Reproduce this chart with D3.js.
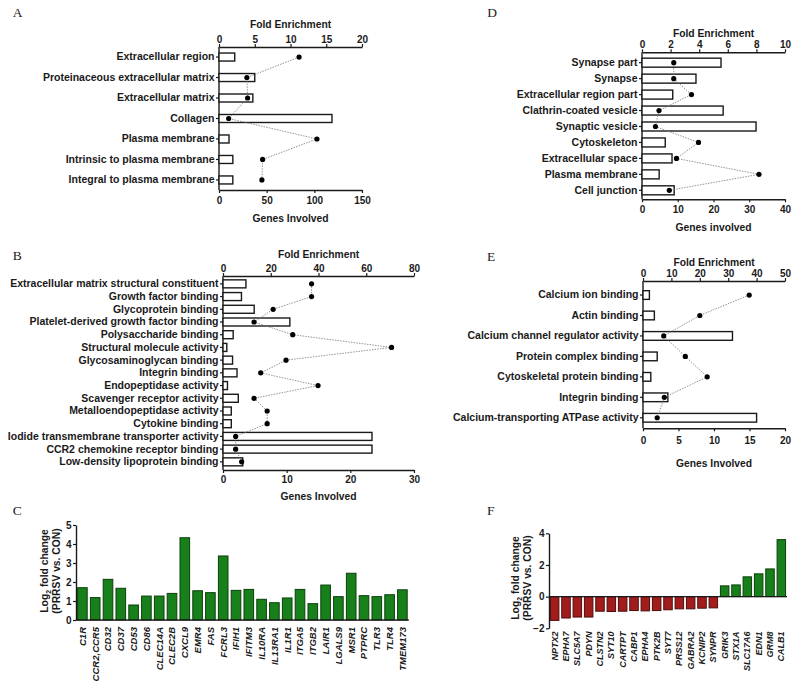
<!DOCTYPE html>
<html>
<head>
<meta charset="utf-8">
<title>GO enrichment and fold change</title>
<script src="https://d3js.org/d3.v7.min.js"></script>
<style>
  body { margin: 0; background: #fff; }
  svg text { font-family: 'Liberation Sans', Arial, sans-serif; font-weight: bold; fill: #1a1a1a; }
  svg .letter { font-family: 'Liberation Serif', 'Times New Roman', serif; font-weight: normal; font-size: 13.5px; }
</style>
</head>
<body>
<svg id="fig" width="800" height="694"></svg>
<script>
// ---- data ----
// A: cellular component (upregulated)
const aTerms = ['Extracellular region', 'Proteinaceous extracellular matrix', 'Extracellular matrix',
                'Collagen', 'Plasma membrane', 'Intrinsic to plasma membrane', 'Integral to plasma membrane'];
const aGenes = [16.5, 37.5, 35.5, 118.5, 10.5, 14.5, 14.5];
const aFold = [11.2, 3.9, 4.0, 1.35, 13.7, 6.1, 6.0];
const aFoldTicks = [0, 5, 10, 15, 20];
const aGeneTicks = [0, 50, 100, 150];

// B: molecular function (upregulated)
const bTerms = ['Extracellular matrix structural constituent', 'Growth factor binding', 'Glycoprotein binding',
                'Platelet-derived growth factor binding', 'Polysaccharide binding', 'Structural molecule activity',
                'Glycosaminoglycan binding', 'Integrin binding', 'Endopeptidase activity',
                'Scavenger receptor activity', 'Metalloendopeptidase activity', 'Cytokine binding',
                'Iodide transmembrane transporter activity', 'CCR2 chemokine receptor binding',
                'Low-density lipoprotein binding'];
const bGenes = [3.6, 2.9, 4.9, 10.5, 1.6, 0.6, 1.5, 2.2, 0.7, 2.4, 1.3, 1.3, 23.4, 23.4, 3.1];
const bFold = [37.1, 37.1, 21.0, 13.0, 29.2, 70.6, 26.4, 15.8, 39.8, 13.0, 18.5, 18.5, 5.3, 5.3, 7.8];
const bFoldTicks = [0, 20, 40, 60, 80];
const bGeneTicks = [0, 10, 20, 30];

// C: upregulated genes
const cGenes = ['C1R', 'CCR2,CCR5', 'CD32', 'CD37', 'CD53', 'CD86', 'CLEC14A', 'CLEC2B', 'CXCL9', 'EMR4',
                'FAS', 'FCRL3', 'IFIH1', 'IFITM3', 'IL10RA', 'IL13RA1', 'IL1R1', 'ITGA5', 'ITGB2', 'LAIR1',
                'LGALS9', 'MSR1', 'PTPRC', 'TLR3', 'TLR4', 'TMEM173'];
const cLfc = [1.70, 1.18, 2.14, 1.67, 0.79, 1.26, 1.26, 1.40, 4.33, 1.54, 1.44, 3.37, 1.56, 1.61, 1.09,
              0.91, 1.16, 1.61, 0.86, 1.84, 1.23, 2.46, 1.28, 1.23, 1.33, 1.59];
const cTicks = [0, 1, 2, 3, 4, 5];

// D: cellular component (neural)
const dTerms = ['Synapse part', 'Synapse', 'Extracellular region part', 'Clathrin-coated vesicle',
                'Synaptic vesicle', 'Cytoskeleton', 'Extracellular space', 'Plasma membrane', 'Cell junction'];
const dGenes = [22.1, 15.1, 8.6, 22.7, 31.9, 6.5, 8.4, 4.8, 9.0];
const dFold = [2.22, 2.22, 3.46, 1.19, 0.94, 3.95, 2.41, 8.18, 1.91];
const dFoldTicks = [0, 2, 4, 6, 8, 10];
const dGeneTicks = [0, 10, 20, 30, 40];

// E: molecular function (neural)
const eTerms = ['Calcium ion binding', 'Actin binding', 'Calcium channel regulator activity',
                'Protein complex binding', 'Cytoskeletal protein binding', 'Integrin binding',
                'Calcium-transporting ATPase activity'];
const eGenes = [0.9, 1.6, 12.6, 2.0, 1.1, 3.5, 16.0];
const eFold = [37.4, 20.0, 7.3, 14.9, 22.6, 7.5, 5.0];
const eFoldTicks = [0, 10, 20, 30, 40, 50];
const eGeneTicks = [0, 5, 10, 15, 20];

// F: neural genes
const fGenes = ['NPTX2', 'EPHA7', 'SLC5A7', 'PDYN', 'CLSTN2', 'SYT10', 'CARTPT', 'CABP1', 'EPHA4', 'PTK2B',
                'SYT7', 'PRSS12', 'GABRA2', 'KCNIP2', 'SYNPR', 'GRIK3', 'STX1A', 'SLC17A6', 'EDN1', 'GRM8', 'CALB1'];
const fLfc = [-1.50, -1.35, -1.29, -1.29, -0.92, -0.94, -0.92, -0.88, -0.90, -0.88, -0.83, -0.77, -0.77,
              -0.73, -0.71, 0.68, 0.74, 1.25, 1.44, 1.75, 3.60];
const fTicks = [-2, 0, 2, 4];

const svg = d3.select('#fig');
const intFmt = d3.format('d');

function styleAxis(g, fontSize) {
    g.attr('font-family', null).attr('font-size', null);
    g.selectAll('.domain').attr('stroke', '#1a1a1a').attr('stroke-width', 1.4);
    g.selectAll('.tick line').attr('stroke', '#1a1a1a').attr('stroke-width', 1.2);
    g.selectAll('.tick text').attr('font-size', fontSize).attr('fill', '#1a1a1a')
     .attr('font-weight', 'bold');
}

// Enrichment panel: white bars = genes involved (bottom axis), dots = fold enrichment (top axis)
function enrichPanel(c) {
    const g = svg.append('g');
    const foldX = d3.scaleLinear().domain([0, c.foldTicks[c.foldTicks.length - 1]]).range([c.x0, c.x1]);
    const geneX = d3.scaleLinear().domain([0, c.geneTicks[c.geneTicks.length - 1]]).range([c.x0, c.x1]);
    const y = d3.scaleBand().domain(c.terms).range([c.bandTop, c.bandBot]);
    const yc = (d) => y(d) + y.bandwidth() / 2;

    // Top axis
    const top = g.append('g').attr('transform', `translate(0,${c.yTop})`)
                 .call(d3.axisTop(foldX).tickValues(c.foldTicks).tickFormat(intFmt)
                         .tickSize(3).tickSizeOuter(0).tickPadding(1));
    styleAxis(top, 10);
    g.append('text').attr('x', (c.x0 + c.x1) / 2).attr('y', c.yTop - c.topTitle)
     .attr('text-anchor', 'middle').attr('font-size', 10.3).text('Fold Enrichment');

    // Bottom axis
    const bot = g.append('g').attr('transform', `translate(0,${c.yBot})`)
                 .call(d3.axisBottom(geneX).tickValues(c.geneTicks).tickFormat(intFmt)
                         .tickSize(3).tickSizeOuter(0).tickPadding(c.botPad));
    styleAxis(bot, 10);
    g.append('text').attr('x', (c.x0 + c.x1) / 2).attr('y', c.yBot + c.botTitle)
     .attr('text-anchor', 'middle').attr('font-size', 10.3).text(c.geneTitle);

    // Left axis with term labels
    const left = g.append('g').attr('transform', `translate(${c.x0},0)`)
                  .call(d3.axisLeft(y).tickSize(3).tickSizeOuter(0).tickPadding(1.5));
    left.select('.domain').remove();
    styleAxis(left, c.labelSize);
    g.append('line').attr('x1', c.x0).attr('x2', c.x0).attr('y1', c.yTop).attr('y2', c.yBot)
     .attr('stroke', '#1a1a1a').attr('stroke-width', 1.4);

    // Bars
    g.selectAll('rect.bar').data(c.terms).join('rect')
     .attr('class', 'bar')
     .attr('x', c.x0)
     .attr('y', (d) => yc(d) - c.barH / 2)
     .attr('width', (d, i) => geneX(c.genes[i]) - c.x0)
     .attr('height', c.barH)
     .attr('fill', '#fff')
     .attr('stroke', '#1a1a1a')
     .attr('stroke-width', 1.4);

    // Dotted connecting line and dots
    const pts = c.terms.map((d, i) => [foldX(c.fold[i]), yc(d)]);
    g.append('path').attr('d', d3.line()(pts))
     .attr('fill', 'none').attr('stroke', '#777').attr('stroke-width', 0.8)
     .attr('stroke-dasharray', '1.5,1.2');
    g.selectAll('circle.dot').data(pts).join('circle')
     .attr('class', 'dot')
     .attr('cx', (p) => p[0]).attr('cy', (p) => p[1]).attr('r', 2.6)
     .attr('fill', '#000');
}

// Log2 fold-change bar panel
function lfcPanel(c) {
    const g = svg.append('g');
    const x = d3.scaleBand().domain(c.genes).range([c.x0, c.x1]).paddingInner(0.25).paddingOuter(0.125);
    const y = d3.scaleLinear().domain([c.ticks[0], c.ticks[c.ticks.length - 1]]).range([c.yBot, c.yTop]);

    g.selectAll('rect').data(c.genes).join('rect')
     .attr('x', (d) => x(d))
     .attr('y', (d, i) => Math.min(y(c.values[i]), y(0)))
     .attr('width', x.bandwidth())
     .attr('height', (d, i) => Math.abs(y(c.values[i]) - y(0)))
     .attr('fill', (d, i) => c.values[i] >= 0 ? '#17801b' : '#a31c1c')
     .attr('stroke', (d, i) => c.values[i] >= 0 ? '#0c3f0c' : '#4d0d0d')
     .attr('stroke-width', 1);

    const ax = g.append('g').attr('transform', `translate(${c.x0},0)`)
                .call(d3.axisLeft(y).tickValues(c.ticks).tickFormat(intFmt)
                        .tickSize(3).tickSizeOuter(0).tickPadding(1.5));
    styleAxis(ax, 10);

    g.append('line').attr('x1', c.x0).attr('x2', c.x1).attr('y1', y(0)).attr('y2', y(0))
     .attr('stroke', '#1a1a1a').attr('stroke-width', 1.4);

    g.selectAll('text.gene').data(c.genes).join('text')
     .attr('class', 'gene')
     .attr('transform', (d) => `translate(${x(d) + x.bandwidth() / 2},${c.labelY}) rotate(-90)`)
     .attr('text-anchor', 'end')
     .attr('dy', '0.35em')
     .attr('font-style', 'italic')
     .attr('font-size', c.labelSize)
     .text((d) => d);

    const yl = g.append('text')
                .attr('transform', `translate(${c.titleX},${c.titleY}) rotate(-90)`)
                .attr('text-anchor', 'middle').attr('font-size', 10.3);
    yl.append('tspan').text('Log');
    yl.append('tspan').attr('font-size', 7).attr('dy', 3).text('2');
    yl.append('tspan').attr('dy', -3).text(' fold change');
    g.append('text')
     .attr('transform', `translate(${c.titleX + 11.5},${c.titleY}) rotate(-90)`)
     .attr('text-anchor', 'middle').attr('font-size', 10.3).text('(PRRSV vs. CON)');
}

enrichPanel({ terms: aTerms, genes: aGenes, fold: aFold, foldTicks: aFoldTicks, geneTicks: aGeneTicks,
              x0: 219, x1: 362, yTop: 47, yBot: 190, bandTop: 46.8, bandBot: 190.2, barH: 8,
              topTitle: 19, botPad: 4, botTitle: 32, geneTitle: 'Genes Involved', labelSize: 10.5 });
enrichPanel({ terms: bTerms, genes: bGenes, fold: bFold, foldTicks: bFoldTicks, geneTicks: bGeneTicks,
              x0: 223, x1: 414, yTop: 276, yBot: 470, bandTop: 277.5, bandBot: 468.2, barH: 8,
              topTitle: 17.7, botPad: 3, botTitle: 30, geneTitle: 'Genes Involved', labelSize: 10.5 });
enrichPanel({ terms: dTerms, genes: dGenes, fold: dFold, foldTicks: dFoldTicks, geneTicks: dGeneTicks,
              x0: 642, x1: 785, yTop: 52.3, yBot: 199.3, bandTop: 54.7, bandBot: 198.3, barH: 9,
              topTitle: 15.6, botPad: 4, botTitle: 31.4, geneTitle: 'Genes involved', labelSize: 10.5 });
enrichPanel({ terms: eTerms, genes: eGenes, fold: eFold, foldTicks: eFoldTicks, geneTicks: eGeneTicks,
              x0: 643, x1: 785, yTop: 281, yBot: 428.3, bandTop: 284.8, bandBot: 428, barH: 8.7,
              topTitle: 15.3, botPad: 5.5, botTitle: 39, geneTitle: 'Genes Involved', labelSize: 10.5 });

lfcPanel({ genes: cGenes, values: cLfc, ticks: cTicks, x0: 76, x1: 408.8, yTop: 525, yBot: 620,
           labelY: 627, labelSize: 9.5, titleX: 48, titleY: 571 });
lfcPanel({ genes: fGenes, values: fLfc, ticks: fTicks, x0: 549, x1: 787, yTop: 533.3, yBot: 628.3,
           labelY: 631.5, labelSize: 9, titleX: 519, titleY: 578 });

// Panel letters
const letters = [['A', 12.7, 17], ['B', 12.7, 260], ['C', 12.7, 515], ['D', 487.3, 16.7], ['E', 487, 260.7], ['F', 487, 515]];
letters.forEach((l) => {
    svg.append('text').attr('class', 'letter').attr('x', l[1]).attr('y', l[2]).text(l[0]);
});
</script>
</body>
</html>
